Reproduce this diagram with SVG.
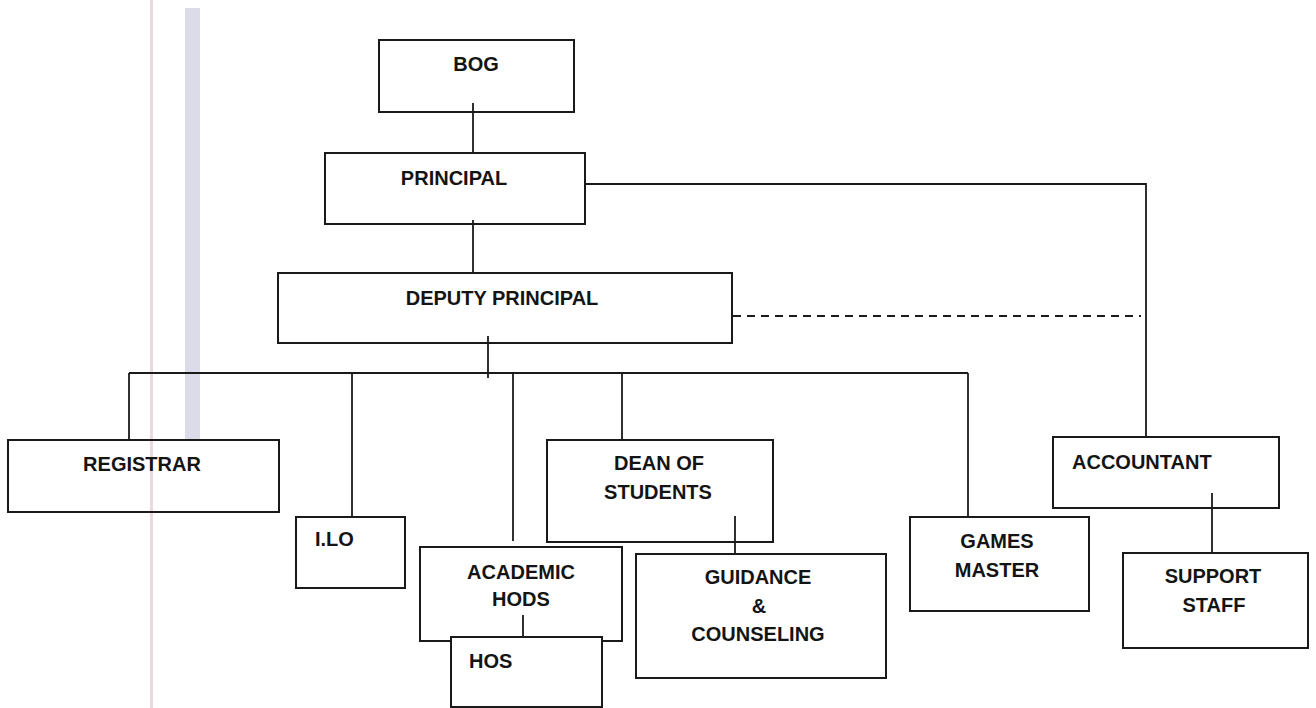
<svg xmlns="http://www.w3.org/2000/svg" width="1316" height="708" viewBox="0 0 1316 708">
  <style>
    .box { fill: none; stroke: #1a1a1a; stroke-width: 2; }
    .boxw { fill: #ffffff; stroke: #1a1a1a; stroke-width: 2; }
    .ln { fill: none; stroke: #1a1a1a; stroke-width: 1.8; }
    .dash { fill: none; stroke: #1a1a1a; stroke-width: 1.8; stroke-dasharray: 8 6; }
    .t { font-family: "Liberation Sans", Arial, sans-serif; font-weight: bold; font-size: 20px; fill: #141414; }
    .c { text-anchor: middle; }
  </style>
  <rect x="0" y="0" width="1316" height="708" fill="#ffffff"/>
  <g id="background-marks">
    <rect x="150" y="0" width="3" height="708" fill="#e8dade"/>
    <rect x="185" y="8" width="15" height="432" fill="#dcdce8"/>
  </g>
  <g id="connectors">
    <line class="ln" x1="473" y1="103" x2="473" y2="153"/>
    <line class="ln" x1="473" y1="220" x2="473" y2="273"/>
    <polyline class="ln" points="585,184 1146,184 1146,437"/>
    <line class="dash" x1="733" y1="316" x2="1141" y2="316"/>
    <line class="ln" x1="488" y1="336" x2="488" y2="378"/>
    <line class="ln" x1="129" y1="373" x2="968" y2="373"/>
    <line class="ln" x1="129" y1="373" x2="129" y2="440"/>
    <line class="ln" x1="352" y1="373" x2="352" y2="517"/>
    <line class="ln" x1="513" y1="373" x2="513" y2="541"/>
    <line class="ln" x1="622" y1="373" x2="622" y2="440"/>
    <line class="ln" x1="968" y1="373" x2="968" y2="517"/>
    <line class="ln" x1="735" y1="516" x2="735" y2="554"/>
    <line class="ln" x1="523" y1="615" x2="523" y2="637"/>
    <line class="ln" x1="1212" y1="493" x2="1212" y2="553"/>
  </g>
  <g id="bog">
    <rect class="box" x="379" y="40" width="195" height="72"/>
    <text class="t c" x="476" y="71">BOG</text>
  </g>
  <g id="principal">
    <rect class="box" x="325" y="153" width="260" height="71"/>
    <text class="t c" x="454" y="185">PRINCIPAL</text>
  </g>
  <g id="deputy-principal">
    <rect class="box" x="278" y="273" width="454" height="70"/>
    <text class="t c" x="502" y="305">DEPUTY PRINCIPAL</text>
  </g>
  <g id="registrar">
    <rect class="box" x="8" y="440" width="271" height="72"/>
    <text class="t c" x="142" y="471">REGISTRAR</text>
  </g>
  <g id="ilo">
    <rect class="box" x="296" y="517" width="109" height="71"/>
    <text class="t" x="315" y="546">I.LO</text>
  </g>
  <g id="academic-hods">
    <rect class="box" x="420" y="547" width="202" height="94"/>
    <text class="t c" x="521" y="579">ACADEMIC</text>
    <text class="t c" x="521" y="606">HODS</text>
  </g>
  <g id="hos">
    <rect class="boxw" x="451" y="637" width="151" height="70"/>
    <text class="t" x="469" y="668">HOS</text>
  </g>
  <g id="dean-of-students">
    <rect class="box" x="547" y="440" width="226" height="102"/>
    <text class="t c" x="659" y="470">DEAN OF</text>
    <text class="t c" x="658" y="499">STUDENTS</text>
  </g>
  <g id="guidance-counseling">
    <rect class="box" x="636" y="554" width="250" height="124"/>
    <text class="t c" x="758" y="584">GUIDANCE</text>
    <text class="t c" x="759" y="613">&amp;</text>
    <text class="t c" x="758" y="641">COUNSELING</text>
  </g>
  <g id="games-master">
    <rect class="box" x="910" y="517" width="179" height="94"/>
    <text class="t c" x="997" y="548">GAMES</text>
    <text class="t c" x="997" y="577">MASTER</text>
  </g>
  <g id="accountant">
    <rect class="box" x="1053" y="437" width="226" height="71"/>
    <text class="t" x="1072" y="469">ACCOUNTANT</text>
  </g>
  <g id="support-staff">
    <rect class="box" x="1123" y="553" width="185" height="95"/>
    <text class="t c" x="1213" y="583">SUPPORT</text>
    <text class="t c" x="1214" y="612">STAFF</text>
  </g>
</svg>
